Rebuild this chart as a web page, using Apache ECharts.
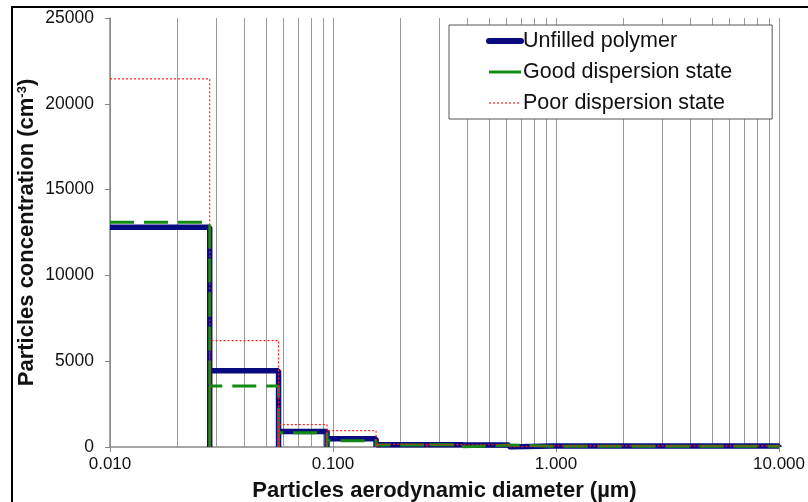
<!DOCTYPE html>
<html>
<head>
<meta charset="utf-8">
<script src="https://cdn.jsdelivr.net/npm/echarts@6/dist/echarts.min.js"></script>
<style>
  html, body { margin: 0; padding: 0; background: #fff; }
  #chart { width: 808px; height: 502px; }
</style>
</head>
<body>
<div id="chart"></div>
<script>
// bin edges (µm) and concentrations per bin (cm-3)
const binEdges = [0.01, 0.028, 0.057, 0.094, 0.156, 0.264, 0.384, 0.616, 0.952, 1.61, 2.4, 4.0, 6.7, 10];
const unfilled = [12800, 4450, 900, 480, 130, 130, 120, 60, 60, 60, 60, 60, 60];
const goodDisp = [13100, 3550, 830, 370, 120, 130, 110, 50, 50, 50, 50, 50, 50];
const poorDisp = [21450, 6200, 1300, 950, 150, 140, 130, 70, 70, 70, 70, 70, 70];
const seriesNames = ['Unfilled polymer', 'Good dispersion state', 'Poor dispersion state'];
const yTicks = [0, 5000, 10000, 15000, 20000, 25000];
const minorGrid = [0.02, 0.03, 0.04, 0.05, 0.06, 0.07, 0.08, 0.09,
  0.2, 0.3, 0.4, 0.5, 0.6, 0.7, 0.8, 0.9,
  2, 3, 4, 5, 6, 7, 8, 9];

// histogram outline: each bin goes up from 0 and back down to 0
function steps(vals) {
  const pts = [];
  vals.forEach((v, i) => {
    if (i > 0) pts.push([binEdges[i], 0]);
    pts.push([binEdges[i], v], [binEdges[i + 1], v], [binEdges[i + 1], 0]);
  });
  return pts;
}

const chart = echarts.init(document.getElementById('chart'));
const font = '"Liberation Sans", Arial, sans-serif';

const blue = '#0a0a80';
const green = '#138a13';
const red = '#ff2020';

const option = {
  animation: false,
  textStyle: { fontFamily: font },
  grid: { left: 110, right: 29, top: 18, bottom: 55, outerBoundsMode: 'none', containLabel: false },
  legend: {
    orient: 'vertical',
    left: 449,
    top: 25,
    padding: [5, 40, 5, 37],
    itemGap: 9,
    itemWidth: 32,
    itemHeight: 22,
    borderColor: '#555',
    borderWidth: 1,
    backgroundColor: '#fff',
    itemStyle: { opacity: 0 },
    textStyle: { fontSize: 21.5, color: '#111', fontFamily: font, padding: [0, 0, 0, -3] },
    data: [
      { name: seriesNames[0], lineStyle: { width: 6, color: blue, cap: 'round' } },
      { name: seriesNames[1], lineStyle: { width: 3, color: green, type: 'solid' } },
      { name: seriesNames[2], lineStyle: { width: 1.2, color: red, type: [2, 2] } }
    ]
  },
  xAxis: {
    type: 'log',
    logBase: 10,
    min: 0.01,
    max: 10,
    name: 'Particles aerodynamic diameter (µm)',
    nameLocation: 'middle',
    nameGap: 33,
    nameMoveOverlap: false,
    nameTextStyle: { fontSize: 22, fontWeight: 'bold', color: '#111' },
    axisLine: { lineStyle: { color: '#888', width: 1.5 } },
    axisTick: { show: true, length: 5, lineStyle: { color: '#888' } },
    axisLabel: { fontSize: 17, color: '#111', margin: 9, formatter: v => v.toFixed(3) },
    splitLine: { show: true, lineStyle: { color: '#999', width: 1 } },
    minorTick: { show: false },
    minorSplitLine: { show: false }
  },
  yAxis: {
    type: 'value',
    min: yTicks[0],
    max: yTicks[yTicks.length - 1],
    interval: 5000,
    name: 'Particles concentration (cm{sup|-3})',
    nameLocation: 'middle',
    nameGap: 72,
    nameMoveOverlap: false,
    nameTextStyle: {
      fontSize: 22, fontWeight: 'bold', color: '#111',
      rich: { sup: { fontSize: 13, fontWeight: 'bold', color: '#111', verticalAlign: 'top', padding: [0, 0, 8, 0] } }
    },
    axisLine: { show: true, lineStyle: { color: '#888', width: 1.5 } },
    axisTick: { show: true, length: 5, lineStyle: { color: '#888' } },
    axisLabel: { fontSize: 17.5, color: '#111', margin: 16, formatter: v => String(v) },
    splitLine: { show: false }
  },
  graphic: [{
    type: 'rect',
    shape: { x: 12, y: 7, width: 820, height: 600 },
    style: { fill: 'none', stroke: '#000', lineWidth: 2 },
    silent: true
  }],
  series: [
    {
      name: seriesNames[0],
      type: 'line',
      showSymbol: false,
      symbol: 'none',
      data: steps(unfilled),
      color: blue,
      lineStyle: { color: blue, width: 5.5 },
      z: 3,
      markLine: {
        silent: true,
        symbol: 'none',
        label: { show: false },
        lineStyle: { color: '#999', width: 1, type: 'solid' },
        data: minorGrid.map(v => ({ xAxis: v })),
        z: 1
      }
    },
    {
      name: seriesNames[1],
      type: 'line',
      showSymbol: false,
      symbol: 'none',
      data: steps(goodDisp),
      color: green,
      lineStyle: { color: green, width: 3, type: [24, 10] },
      z: 4
    },
    {
      name: seriesNames[2],
      type: 'line',
      showSymbol: false,
      symbol: 'none',
      data: steps(poorDisp),
      color: red,
      lineStyle: { color: red, width: 1.2, type: [2, 2] },
      z: 5
    }
  ]
};

chart.setOption(option);
</script>
</body>
</html>
